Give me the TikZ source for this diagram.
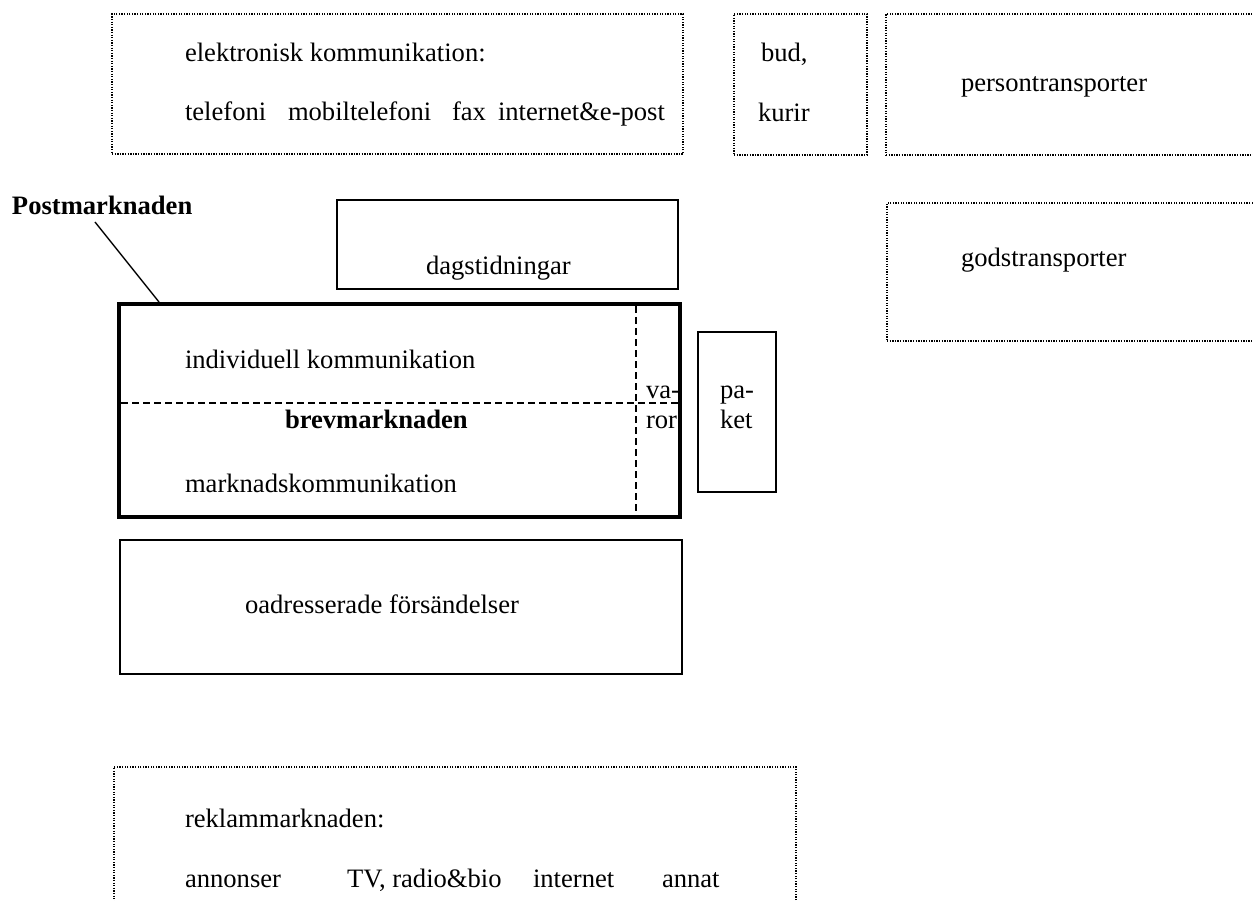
\documentclass[tikz,border=0pt]{standalone}
\usepackage{fontspec}
\setmainfont{Liberation Serif}
\begin{document}
\begin{tikzpicture}[x=1pt,y=-1pt,
  every node/.style={font=\fontsize{26.6}{32}\selectfont, inner sep=0pt, outer sep=0pt},
  txt/.style={anchor=base west},
  dotbox/.style={draw, line width=1.3pt, dash pattern=on 1.3pt off 1.3pt, anchor=north west},
  solidbox/.style={draw, line width=1.6pt, anchor=north west},
  thickbox/.style={draw, line width=3.5pt, anchor=north west},
  dashline/.style={line width=1.5pt, dash pattern=on 7pt off 4pt},
  leader/.style={line width=1.4pt}]
\clip (0,0) rectangle (1253,901);
\fill[white] (0,0) rectangle (1253,901);
% boxes
\node[dotbox, minimum width=571pt, minimum height=140pt] (elbox) at (112,14) {};
\node[dotbox, minimum width=133pt, minimum height=141pt] (budbox) at (734,14) {};
\node[dotbox, minimum width=500pt, minimum height=141pt] (persbox) at (886,14) {};
\node[dotbox, minimum width=500pt, minimum height=138pt] (godsbox) at (887,203) {};
\node[solidbox, minimum width=341pt, minimum height=89pt] (dagbox) at (337,200) {};
\node[thickbox, minimum width=561pt, minimum height=213pt] (main) at (119,304) {};
\node[solidbox, minimum width=78pt, minimum height=160pt] (paketbox) at (698,332) {};
\node[solidbox, minimum width=562pt, minimum height=134pt] (oadrbox) at (120,540) {};
\node[dotbox, minimum width=682pt, minimum height=200pt] (reklbox) at (114,767) {};
% inner dashed lines
\draw[dashline] (121,403) -- (678,403);
\draw[dashline] (636,306) -- (636,515);
% texts
\node[txt] (el1) at (185,62) {elektronisk kommunikation:};
\node[txt] (tel) at (185,121) {telefoni};
\node[txt] (mob) at (288,121) {mobiltelefoni};
\node[txt] (fax) at (452,121) {fax};
\node[txt] (inet) at (498,121) {internet\&e-post};
\node[txt] (bud) at (761,62) {bud,};
\node[txt] (kurir) at (758,122) {kurir};
\node[txt] (pers) at (961,92) {persontransporter};
\node[txt] (pm) at (12,215) {\bfseries Postmarknaden};
\node[txt] (dag) at (426,275) {dagstidningar};
\node[txt] (gods) at (961,267) {godstransporter};
\node[txt] (ind) at (185,368) {individuell kommunikation};
\node[txt] (brev) at (285,428) {\bfseries brevmarknaden};
\node[txt] (mk) at (185,492) {marknadskommunikation};
\node[txt] (va) at (646,398) {va-};
\node[txt] (ror) at (646,428) {ror};
\node[txt] (pa) at (720,398) {pa-};
\node[txt] (ket) at (720,428) {ket};
\node[txt] (oadr) at (245,613) {oadresserade försändelser};
\node[txt] (rekl) at (185,827) {reklammarknaden:};
\node[txt] (ann) at (185,887) {annonser};
\node[txt] (tv) at (347,887) {TV, radio\&bio};
\node[txt] (inet2) at (533,887) {internet};
\node[txt] (annat) at (662,887) {annat};
% leader line
\coordinate (pmstart) at (95,222);
\coordinate (pmfoot) at (159,302);
\draw[leader] (pmstart) -- (pmfoot);
\end{tikzpicture}
\end{document}
